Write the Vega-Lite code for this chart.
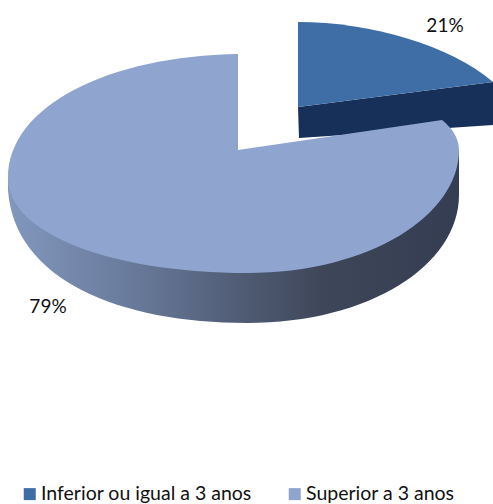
{
"$schema":"https://vega.github.io/schema/vega-lite/v6.json",
"autosize":{"type":"fit","contains":"padding"},
"width":493,"height":504,"padding":0,
"background":"white",
"view":{"stroke":null},
"config":{"font":"Lato"},
"data":{"values":[
{"categoria":"Inferior ou igual a 3 anos","parte":0.21},
{"categoria":"Superior a 3 anos","parte":0.79}
]},
"layer":[
{"transform":[{"filter":"datum.parte<0.5"}],
 "mark":{"type":"point","filled":true,"opacity":1,"size":4,"strokeWidth":0,"fill":"#17305a","shape":"M51.5 -145 L246.5 -170 L246.5 -127 L52.5 -114 Z"},
 "encoding":{"detail":{"field":"categoria"}}},
{"transform":[{"filter":"datum.parte<0.5"}],
 "mark":{"type":"point","filled":true,"opacity":1,"size":4,"strokeWidth":0,"shape":"M51.5 -145 L51.5 -230 C123.5 -230 203.5 -207 246.5 -170 Z"},
 "encoding":{"color":{"field":"categoria","type":"nominal","scale":{"domain":["Inferior ou igual a 3 anos","Superior a 3 anos"],"range":["#3f6ea6","#8fa5cf"]},
   "legend":{"orient":"none","legendX":20,"legendY":484,"direction":"horizontal","columns":2,"columnPadding":33,"title":null,"symbolType":"square","symbolSize":144,"symbolStrokeWidth":0,"labelFontSize":19.5,"labelColor":"#111111","labelOffset":1.5,"labelLimit":300,"symbolOpacity":1}}}},
{"transform":[{"filter":"datum.parte>0.5"}],
 "mark":{"type":"point","filled":true,"opacity":1,"size":4,"strokeWidth":0,"shape":"M-238.5 -74 L-238.5 -62 C-232.5 28 -126.5 71 .5 71 C123.5 71 212.5 13 212.5 -57 L212.5 -102 L.5 -52 Z",
   "fill":{"gradient":"linear","x1":0,"y1":0,"x2":1,"y2":0,"stops":[{"offset":0,"color":"#8297bd"},{"offset":0.25,"color":"#6b7d9f"},{"offset":0.5,"color":"#525e77"},{"offset":0.7,"color":"#3e4659"},{"offset":1,"color":"#343d52"}]}},
 "encoding":{"detail":{"field":"categoria"}}},
{"transform":[{"filter":"datum.parte>0.5"}],
 "mark":{"type":"point","filled":true,"opacity":1,"size":4,"strokeWidth":0,"shape":"M-8.5 -102 L-8.5 -198 C-136.5 -196 -238.5 -147 -238.5 -74 C-238.5 -17 -131.5 21 .5 21 C123.5 21 212.5 -37 212.5 -102 C212.5 -114 205.5 -124 195.5 -132 Z"},
 "encoding":{"color":{"field":"categoria","type":"nominal"}}},
{"transform":[{"filter":"datum.parte<0.5"}],
 "mark":{"type":"text","dx":198.5,"dy":-226,"fontSize":19,"color":"#111111"},
 "encoding":{"text":{"field":"parte","type":"quantitative","format":".0%"}}},
{"transform":[{"filter":"datum.parte>0.5"}],
 "mark":{"type":"text","dx":-198.5,"dy":55,"fontSize":19,"color":"#111111"},
 "encoding":{"text":{"field":"parte","type":"quantitative","format":".0%"}}}
]
}
